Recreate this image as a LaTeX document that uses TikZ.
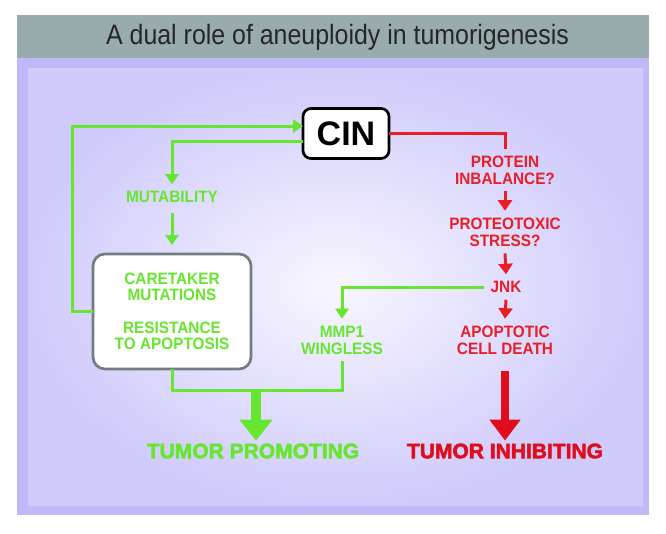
\documentclass[tikz,border=0pt]{standalone}
\usepackage{fontspec}
\setmainfont{Liberation Sans}
\newfontfamily\titlefont[FakeStretch=0.89]{Liberation Sans}
\newfontfamily\labelfont[FakeStretch=0.93]{Liberation Sans Bold}
\newfontfamily\heavyfont[FakeBold=2.5]{Liberation Sans Bold}
\usetikzlibrary{arrows.meta,calc}
\definecolor{gbar}{RGB}{152,171,173}
\definecolor{lav}{RGB}{191,185,249}
\definecolor{lavin}{RGB}{208,203,251}
\definecolor{lavc}{RGB}{248,247,255}
\definecolor{gr}{RGB}{102,230,46}
\definecolor{rd}{RGB}{232,30,40}
\definecolor{rdd}{RGB}{224,14,28}
\definecolor{boxgray}{RGB}{112,126,130}
\tikzset{
  lbl/.style={inner sep=0pt, outer sep=7pt, align=center, font=\labelfont\fontsize{16.5}{17}\selectfont},
  glbl/.style={lbl, text=gr},
  rlbl/.style={lbl, text=rd},
  gline/.style={draw=gr, line width=3pt},
  garrow/.style={gline, -{Triangle[width=13pt,length=10pt]}},
  rline/.style={draw=rd, line width=3pt},
  rarrow/.style={rline, -{Triangle[width=14pt,length=10.5pt]}},
  fatg/.style={draw=gr, line width=10pt, -{Triangle[width=32pt,length=21pt]}},
  fatr/.style={draw=rdd, line width=8.5pt, -{Triangle[width=30pt,length=21pt]}},
  bigtxt/.style={inner sep=0pt, outer sep=3pt, font=\heavyfont\fontsize{21}{22}\selectfont}
}
\begin{document}
\begin{tikzpicture}[x=1pt,y=-1pt]
\useasboundingbox (0,0) rectangle (666,533);
\fill[white] (0,0) rectangle (666,533);
% panels
\fill[lav] (17,58) rectangle (649,515);
\fill[gbar] (17,15) rectangle (649,58);
\shade[inner color=lavc, outer color=lavin] (28,68) rectangle (643,505);
\node[inner sep=0pt, text=black!85, font=\titlefont\fontsize{28}{30}\selectfont] (title) at (337.5,37) {A dual role of aneuploidy in tumorigenesis};

% nodes
\node[draw=black, line width=2.7pt, rounded corners=8pt, fill=white, minimum width=86pt, minimum height=50pt, inner sep=0pt, outer sep=0pt,
      font=\fontsize{34}{35}\selectfont\bfseries] (cin) at (346,133.5) {CIN};
\node[glbl] (mut) at (172,197) {MUTABILITY};
\node[draw=boxgray, line width=2.7pt, rounded corners=12pt, fill=white, minimum width=158pt, minimum height=115pt, inner sep=0pt, outer sep=0pt,
      align=center, text=gr, font=\labelfont\fontsize{16.5}{16.5}\selectfont] (care) at (172,311.5)
      {CARETAKER\\MUTATIONS\\[16pt]RESISTANCE\\TO APOPTOSIS};
\node[glbl] (mmp) at (342,340) {MMP1\\WINGLESS};
\node[rlbl] (prot) at (505,170) {PROTEIN\\INBALANCE?};
\node[rlbl] (stress) at (505,232) {PROTEOTOXIC\\STRESS?};
\node[rlbl] (jnk) at (506,287) {JNK};
\node[rlbl] (death) at (505,340) {APOPTOTIC\\CELL DEATH};
\node[bigtxt, text=gr] (prom) at (253,451) {TUMOR PROMOTING};
\node[bigtxt, text=rdd] (inhib) at (505,451) {TUMOR INHIBITING};

% green connectors
\draw[garrow] (care.west) -- ++(-21,0) |- ([yshift=7.5pt]cin.west);
\draw[garrow] ([yshift=-7.5pt]cin.west) -| (mut.north);
\draw[garrow, shorten <=3pt, shorten >=9pt] (mut.south) -- (care.north);
\draw[garrow] (jnk.west) -| (mmp.north);
\draw[gline] (care.south) -- ++(0,21) coordinate (gl) -| (mmp.south);
\coordinate (gj) at ($(gl)+(84,-1.5)$);
\draw[fatg] (gj) -- (gj |- prom.north);

% red connectors
\draw[rline] (cin.east) -| (prot.north);
\draw[rarrow] (prot.south) -- (stress.north);
\draw[rarrow] (stress.south) -- (jnk.north);
\draw[rarrow] (jnk.south) -- (death.north);
\draw[fatr, shorten <=10pt] (death.south -| inhib.north) -- (inhib.north);
\end{tikzpicture}
\end{document}
